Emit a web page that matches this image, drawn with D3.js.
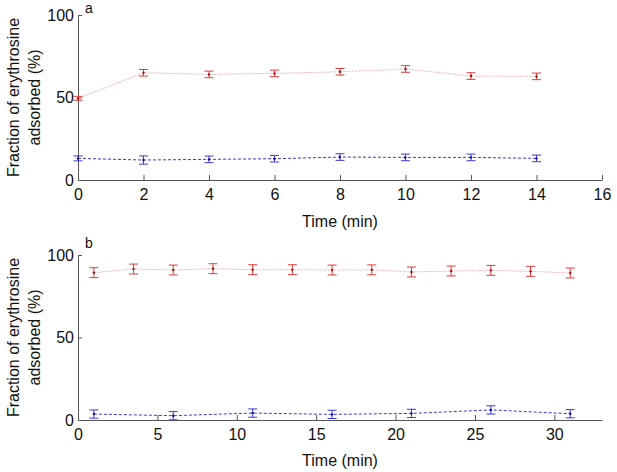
<!DOCTYPE html>
<html lang="en">
	<head>
		<meta charset="utf-8">
		<title>Erythrosine adsorption</title>
		<script type="text/javascript" src="https://cdn.jsdelivr.net/npm/d3@7"></script>
		<style type="text/css">
			body { margin: 0; background: #fff; }
			text { font-family: "Liberation Sans", Arial, sans-serif; }
		</style>
	</head>

	<body>
		<script type="text/javascript">
			/* panel a data */
			var timeA = [0, 2, 4, 6, 8, 10, 12, 14];
			var redA = [49.5, 65.0, 64.0, 64.6, 65.6, 67.3, 63.0, 62.8];
			var redErrA = [1.2, 2, 2, 2, 2, 2, 2, 2];
			var blueA = [13.1, 12.1, 12.5, 12.9, 13.9, 13.7, 13.7, 13.1];
			var blueErrA = [1.5, 2.5, 2, 2, 2, 2, 2, 2];
			var xTicksA = [0, 2, 4, 6, 8, 10, 12, 14, 16];

			/* panel b data */
			var timeRedB = [1, 3.5, 6, 8.5, 11, 13.5, 16, 18.5, 21, 23.5, 26, 28.5, 31];
			var redB = [89.3, 91.5, 90.9, 91.7, 91.1, 91.1, 90.9, 91.0, 89.7, 90.3, 90.7, 90.1, 89.1];
			var redErrB = [3, 3, 3, 3, 3, 3, 3, 3, 3, 3, 3, 3, 3];
			var timeBlueB = [1, 6, 11, 16, 21, 26, 31];
			var blueB = [3.6, 2.6, 4.2, 3.4, 4.0, 6.1, 3.8];
			var blueErrB = [2.5, 2.5, 2.5, 2.5, 2.5, 2.5, 2.5];
			var xTicksB = [0, 5, 10, 15, 20, 25, 30];

			var yTicks = [0, 50, 100];

			var svg = d3.select("body")
				.append("svg")
				.attr("width", 617)
				.attr("height", 472);

			function panel(opt) {
				var x = d3.scaleLinear().domain(opt.xDomain).range([78, 602]);
				var y = d3.scaleLinear().domain([0, 100]).range([opt.bottom, opt.bottom - 165]);
				var g = svg.append("g");

				// axes
				var xAxis = g.append("g")
					.attr("transform", "translate(0," + opt.bottom + ")")
					.call(d3.axisBottom(x).tickValues(opt.xTicks).tickSizeInner(-5).tickSizeOuter(0));
				var yAxis = g.append("g")
					.attr("transform", "translate(78,0)")
					.call(d3.axisLeft(y).tickValues(yTicks).tickSizeInner(-4).tickSizeOuter(0).tickPadding(6));
				[xAxis, yAxis].forEach(function(a) {
					a.select(".domain").attr("stroke", "#555");
					a.selectAll(".tick line").attr("stroke", "#555");
					a.selectAll(".tick text").attr("font-size", "16px").attr("fill", "#111")
						.style("font-family", "'Liberation Sans', Arial, sans-serif");
				});
				xAxis.selectAll(".tick text").attr("y", 9);
				yAxis.selectAll(".tick text").attr("x", -4);

				// series
				opt.series.forEach(function(s) {
					var pts = s.xs.map(function(d, i) { return { x: d, y: s.ys[i], e: s.es[i] }; });
					var line = d3.line().x(function(d) { return x(d.x); }).y(function(d) { return y(d.y); });
					g.append("path")
						.datum(pts)
						.attr("d", line)
						.attr("fill", "none")
						.attr("stroke", s.lineColor)
						.attr("stroke-width", 1)
						.attr("stroke-dasharray", s.dash);

					var eb = g.append("g").selectAll("g").data(pts).enter().append("g")
						.attr("stroke", s.barColor).attr("stroke-width", 1);
					eb.append("line")
						.attr("x1", function(d) { return x(d.x); })
						.attr("x2", function(d) { return x(d.x); })
						.attr("y1", function(d) { return y(d.y - d.e); })
						.attr("y2", function(d) { return y(d.y + d.e); });
					[-1, 1].forEach(function(sign) {
						eb.append("line")
							.attr("x1", function(d) { return x(d.x) - 4.5; })
							.attr("x2", function(d) { return x(d.x) + 4.5; })
							.attr("y1", function(d) { return y(d.y + sign * d.e); })
							.attr("y2", function(d) { return y(d.y + sign * d.e); });
					});
					eb.append("circle")
						.attr("cx", function(d) { return x(d.x); })
						.attr("cy", function(d) { return y(d.y); })
						.attr("r", 1.2)
						.attr("fill", s.dotColor)
						.attr("stroke", "none");
				});

				// axis titles
				g.append("text")
					.attr("x", 340).attr("y", opt.bottom + opt.titleOffset)
					.attr("text-anchor", "middle").attr("font-size", "16px").attr("fill", "#111")
					.text("Time (min)");
				var cy = opt.bottom - 82.5;
				var yl = g.append("text")
					.attr("transform", "translate(0," + cy + ") rotate(-90)")
					.attr("text-anchor", "middle").attr("font-size", "16px").attr("fill", "#111");
				yl.append("tspan").attr("x", 0).attr("y", 19).text("Fraction of erythrosine");
				yl.append("tspan").attr("x", 0).attr("y", 40).text("adsorbed (%)");

				// panel letter
				g.append("text")
					.attr("x", 85).attr("y", opt.bottom - 165 + opt.letterDy)
					.attr("font-size", "14px").attr("fill", "#111")
					.text(opt.letter);
			}

			panel({
				xDomain: [0, 16], xTicks: xTicksA, bottom: 180, titleOffset: 47, letter: "a", letterDy: -2,
				series: [
					{ xs: timeA, ys: redA, es: redErrA, lineColor: "#f2b8b8", barColor: "#e03a3a", dotColor: "#a01010", dash: "2,1" },
					{ xs: timeA, ys: blueA, es: blueErrA, lineColor: "#3a3ad8", barColor: "#3a3ad8", dotColor: "#10108a", dash: "3,2" }
				]
			});
			panel({
				xDomain: [0, 33], xTicks: xTicksB, bottom: 420, titleOffset: 46, letter: "b", letterDy: -7,
				series: [
					{ xs: timeRedB, ys: redB, es: redErrB, lineColor: "#f2b8b8", barColor: "#e03a3a", dotColor: "#a01010", dash: "2,1" },
					{ xs: timeBlueB, ys: blueB, es: blueErrB, lineColor: "#3a3ad8", barColor: "#3a3ad8", dotColor: "#10108a", dash: "3,2" }
				]
			});
		</script>
	</body>
</html>
